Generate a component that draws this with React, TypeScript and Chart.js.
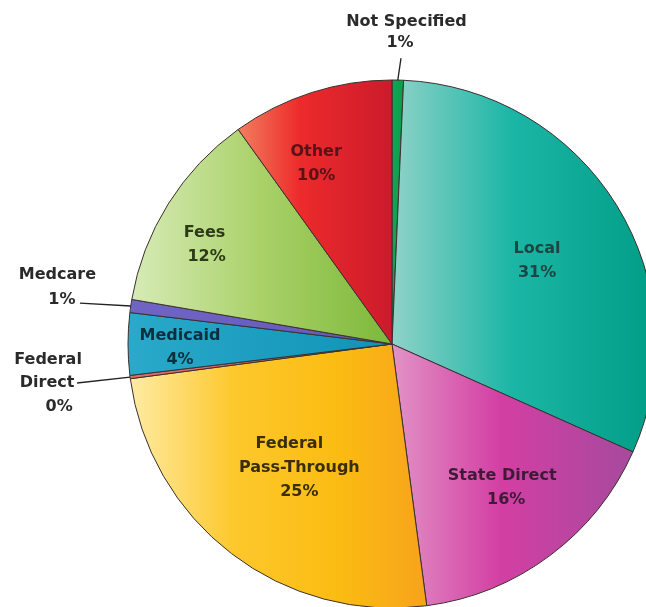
import React, { useEffect, useRef } from "react";
import { Chart, registerables } from "chart.js";

Chart.register(...registerables);

// ---- Data ----
const categories = [
  "Not Specified",
  "Local",
  "State Direct",
  "Federal Pass-Through",
  "Federal Direct",
  "Medicaid",
  "Medcare",
  "Fees",
  "Other",
];
const shares = [0.7, 31.0, 16.2, 25.0, 0.2, 3.8, 0.8, 12.4, 9.9];
const labelLines = [
  ["Not Specified"],
  ["Local"],
  ["State Direct"],
  ["Federal", "Pass-Through"],
  ["Federal", "Direct"],
  ["Medicaid"],
  ["Medcare"],
  ["Fees"],
  ["Other"],
];

// ---- Styles ----
const gradientStops: [number, string][][] = [
  [[0, "#15a455"], [1, "#0e9a4c"]],
  [[0, "#90d2c8"], [0.45, "#1cb6a6"], [1, "#009d86"]],
  [[0, "#e292c6"], [0.45, "#d33fa3"], [1, "#a64a9e"]],
  [[0, "#feeba4"], [0.35, "#fdc82c"], [0.7, "#fbbc12"], [1, "#f7a31c"]],
  [[0, "#e46a6a"], [1, "#dc5f60"]],
  [[0, "#2aa9ca"], [1, "#0f93b6"]],
  [[0, "#7064c4"], [1, "#645ab8"]],
  [[0, "#d7ebb6"], [0.5, "#a9d168"], [1, "#7db83a"]],
  [[0, "#f37e5e"], [0.4, "#ec2b2b"], [1, "#cc1a2c"]],
];
const labelColors = [
  "#2a2a2a",
  "#1d4542",
  "#3e1a37",
  "#3a2e0a",
  "#2a2a2a",
  "#0c2f3e",
  "#2a2a2a",
  "#2c3a18",
  "#5a1216",
];
const LINE_H = 24;
const FONT = "bold 16px 'DejaVu Sans'";

// inside labels: position along slice (0..1) and fraction of radius
const insidePlacement: Record<number, { along: number; radius: number; dx?: number[] }> = {
  1: { along: 0.517, radius: 0.633 },
  2: { along: 0.48, radius: 0.692, dx: [-2, 2] },
  3: { along: 0.5, radius: 0.59, dx: [-8, 2, 2] },
  5: { along: 0.42, radius: 0.803 },
  7: { along: 0.41, radius: 0.8, dx: [-1, 1] },
  8: { along: 0.36, radius: 0.741 },
};
// outside labels: offsets relative to the slice's outer mid point
const outsidePlacement: Record<number, { line: [number, number]; text: [number, number][] }> = {
  0: { line: [3.2, -22], text: [[8.7, -58], [2.2, -37]] },
  4: { line: [-53, 5.9], text: [[-82, -17], [-83, 6], [-71, 30]] },
  6: { line: [-50.8, -2.9], text: [[-73.3, -30.9], [-68.8, -5.9]] },
};

const pct = (v: number) => `${Math.round(v)}%`;

const gradientPlugin = {
  id: "sliceGradients",
  beforeDatasetsDraw(chart: any) {
    const ctx = chart.ctx;
    const meta = chart.getDatasetMeta(0);
    meta.data.forEach((arc: any, i: number) => {
      const { x, startAngle, endAngle, outerRadius } = arc.getProps(
        ["x", "startAngle", "endAngle", "outerRadius"],
        true
      );
      let minX = x;
      let maxX = x;
      const consider = (a: number) => {
        const px = x + Math.cos(a) * outerRadius;
        minX = Math.min(minX, px);
        maxX = Math.max(maxX, px);
      };
      consider(startAngle);
      consider(endAngle);
      for (let k = -4; k <= 8; k++) {
        const a = (k * Math.PI) / 2;
        if (a > startAngle && a < endAngle) consider(a);
      }
      if (maxX - minX < 1) maxX = minX + 1;
      const g = ctx.createLinearGradient(minX, 0, maxX, 0);
      gradientStops[i].forEach(([o, c]) => g.addColorStop(o, c));
      arc.options.backgroundColor = g;
    });
  },
};

const labelPlugin = {
  id: "sliceLabels",
  afterDatasetsDraw(chart: any) {
    const ctx = chart.ctx;
    const meta = chart.getDatasetMeta(0);
    ctx.save();
    ctx.font = FONT;
    ctx.textAlign = "center";
    ctx.textBaseline = "middle";
    meta.data.forEach((arc: any, i: number) => {
      const { x, y, startAngle, endAngle, outerRadius } = arc.getProps(
        ["x", "y", "startAngle", "endAngle", "outerRadius"],
        true
      );
      const lines = [...labelLines[i], pct(shares[i])];
      ctx.fillStyle = labelColors[i];
      const inside = insidePlacement[i];
      if (inside) {
        const a = startAngle + (endAngle - startAngle) * inside.along;
        const r = outerRadius * inside.radius;
        const cx = x + Math.cos(a) * r;
        const cy = y + Math.sin(a) * r;
        const top = cy - ((lines.length - 1) * LINE_H) / 2;
        lines.forEach((t, k) => {
          ctx.fillText(t, cx + (inside.dx ? inside.dx[k] || 0 : 0), top + k * LINE_H);
        });
      } else {
        const out = outsidePlacement[i];
        if (!out) return;
        const a = (startAngle + endAngle) / 2;
        const ex = x + Math.cos(a) * outerRadius;
        const ey = y + Math.sin(a) * outerRadius;
        ctx.strokeStyle = "#222";
        ctx.lineWidth = 1.3;
        ctx.beginPath();
        ctx.moveTo(ex, ey);
        ctx.lineTo(ex + out.line[0], ey + out.line[1]);
        ctx.stroke();
        lines.forEach((t, k) => {
          ctx.fillText(t, ex + out.text[k][0], ey + out.text[k][1]);
        });
      }
    });
    ctx.restore();
  },
};

export default function App() {
  const canvasRef = useRef<HTMLCanvasElement | null>(null);

  useEffect(() => {
    if (!canvasRef.current) return;
    const chart = new Chart(canvasRef.current, {
      type: "pie",
      data: {
        labels: categories,
        datasets: [
          {
            data: shares,
            backgroundColor: () => "#cccccc",
            borderColor: "#3a3030",
            borderWidth: 1,
            clip: false as any,
          } as any,
        ],
      },
      options: {
        responsive: false,
        animation: false,
        events: [],
        radius: 264,
        layout: { padding: { left: 138, top: 81, right: 0, bottom: 0 } },
        plugins: {
          legend: { display: false },
          tooltip: { enabled: false },
          title: { display: false },
        },
      } as any,
      plugins: [gradientPlugin, labelPlugin],
    });
    return () => chart.destroy();
  }, []);

  return (
    <div
      style={{
        position: "fixed",
        left: 0,
        top: 0,
        width: 646,
        height: 607,
        overflow: "hidden",
        background: "#ffffff",
      }}
    >
      <canvas ref={canvasRef} width={646} height={607} style={{ width: 646, height: 607, display: "block" }} />
    </div>
  );
}
